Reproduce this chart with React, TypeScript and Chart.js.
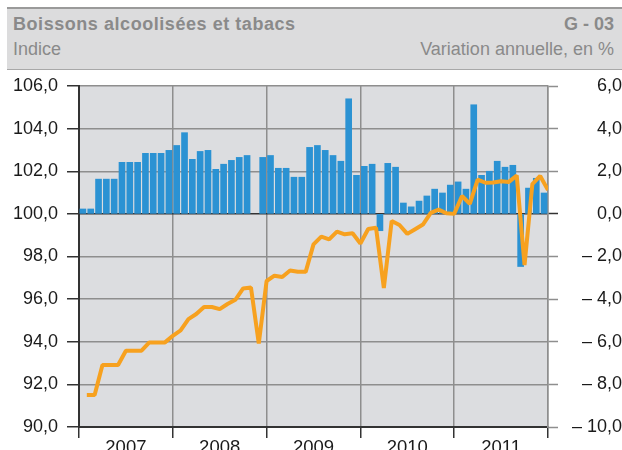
import React, { useEffect, useRef } from 'react';
import { Chart, registerables } from 'chart.js';

Chart.register(...registerables);

const years = ['2007', '2008', '2009', '2010', '2011'];
const monthsPerYear = 12;

// Indice (left axis), one value per month, Jan 2007 .. Dec 2011
const indexValues = [
  91.5, 91.5, 92.91, 92.91, 92.91, 93.58, 93.58, 93.58, 93.97, 93.97, 93.97, 94.28,
  94.53, 95.06, 95.3, 95.63, 95.63, 95.53, 95.77, 95.97, 96.5, 96.55, 93.92, 96.85,
  97.1, 97.04, 97.34, 97.28, 97.28, 98.57, 98.93, 98.8, 99.17, 99.04, 99.09, 98.61,
  99.29, 99.35, 96.52, 99.67, 99.48, 99.06, 99.28, 99.5, 100.05, 100.2, 100.03, 100.0,
  100.84, 100.47, 101.61, 101.46, 101.47, 101.53, 101.5, 101.8, 97.6, 101.4, 101.78, 101.12,
];

// Variation annuelle, en % (right axis)
const annualChange: (number | null)[] = [
  0.23, 0.23, 1.63, 1.63, 1.63, 2.42, 2.42, 2.42, 2.84, 2.84, 2.84, 2.98,
  3.21, 3.81, 2.56, 2.93, 2.98, 2.09, 2.33, 2.51, 2.65, 2.74, null, 2.65,
  2.74, 2.14, 2.14, 1.72, 1.72, 3.12, 3.21, 2.98, 2.74, 2.47, 5.4, 1.81,
  2.23, 2.33, -0.79, 2.37, 2.19, 0.51, 0.33, 0.6, 0.84, 1.16, 0.98, 1.35,
  1.5, 1.16, 5.12, 1.81, 2.0, 2.47, 2.19, 2.28, -2.47, 1.21, 1.67, 0.98,
];

const leftMin = 90;
const leftMax = 106;
const rightMin = -10;
const rightMax = 6;
const tickStep = 2;

const fmt = (v: number) =>
  (v < 0 ? '\u2013 ' : '') + Math.abs(v).toFixed(1).replace('.', ',');

const GRID = '#8e8e8e';
const DARK = '#333333';
const FONT = 'Liberation Sans, Arial, sans-serif';

const bgPlugin = {
  id: 'plotBg',
  beforeDraw(chart: any) {
    const { ctx, chartArea } = chart;
    ctx.save();
    ctx.fillStyle = '#dcdde0';
    ctx.fillRect(chartArea.left, chartArea.top, chartArea.right - chartArea.left, chartArea.bottom - chartArea.top);
    ctx.restore();
  },
};

export default function App() {
  const ref = useRef<HTMLCanvasElement | null>(null);

  useEffect(() => {
    if (!ref.current) return;
    const total = years.length * monthsPerYear;
    const lineData = indexValues.map((v, i) => ({ x: i + 1, y: v }));
    const barData = annualChange.map((v, i) => ({ x: i + 0.5, y: v }));

    const chart = new Chart(ref.current, {
      type: 'bar',
      data: {
        datasets: [
          {
            type: 'line',
            label: 'Indice',
            data: lineData as any,
            yAxisID: 'y',
            xAxisID: 'x',
            borderColor: '#f7a11f',
            backgroundColor: '#f7a11f',
            borderWidth: 4,
            pointRadius: 0,
            tension: 0,
            borderJoinStyle: 'bevel',
            order: 0,
          } as any,
          {
            type: 'bar',
            label: 'Variation annuelle',
            data: barData as any,
            yAxisID: 'y2',
            xAxisID: 'x',
            backgroundColor: '#2b92d3',
            borderWidth: 0,
            barThickness: 6,
            order: 1,
          } as any,
        ],
      },
      options: {
        animation: false,
        responsive: false,
        maintainAspectRatio: false,
        layout: { padding: { top: 86, left: 0, right: 0, bottom: 0 } },
        plugins: { legend: { display: false }, tooltip: { enabled: false } },
        scales: {
          x: {
            type: 'linear',
            position: 'bottom',
            offset: false,
            min: 0,
            max: total,
            afterBuildTicks: (scale: any) => {
              const t = [];
              for (let v = 0; v <= total; v += monthsPerYear / 2) t.push({ value: v });
              scale.ticks = t;
            },
            afterFit: (scale: any) => {
              scale.height = 23;
            },
            grid: {
              offset: false,
              color: (c: any) => (c.tick && c.tick.value % monthsPerYear === 0 ? GRID : 'rgba(0,0,0,0)'),
              tickColor: (c: any) => (c.tick && c.tick.value % monthsPerYear === 0 ? DARK : 'rgba(0,0,0,0)'),
              lineWidth: 1.5,
              tickLength: 11,
              tickWidth: 1.5,
            },
            border: { color: DARK, width: 2 },
            ticks: {
              autoSkip: false,
              maxRotation: 0,
              padding: -1,
              color: '#1a1a1a',
              font: { family: FONT, size: 18.5 },
              callback: (v: any) => {
                const n = Number(v);
                if (n % monthsPerYear === monthsPerYear / 2) return years[(n - monthsPerYear / 2) / monthsPerYear];
                return '';
              },
            },
          },
          y: {
            type: 'linear',
            position: 'left',
            min: leftMin,
            max: leftMax,
            afterFit: (scale: any) => {
              scale.width = 79;
            },
            grid: {
              color: (c: any) => (c.tick && c.tick.value === 100 ? DARK : GRID),
              lineWidth: 1.5,
              tickColor: DARK,
              tickLength: 12,
              tickWidth: 1.5,
            },
            border: { color: DARK, width: 2 },
            ticks: {
              stepSize: tickStep,
              padding: 9,
              color: '#1a1a1a',
              font: { family: FONT, size: 18 },
              callback: (v: any) => fmt(Number(v)),
            },
          },
          y2: {
            type: 'linear',
            position: 'right',
            min: rightMin,
            max: rightMax,
            afterFit: (scale: any) => {
              scale.width = 74;
            },
            grid: {
              drawOnChartArea: false,
              tickColor: (c: any) => (c.tick && c.tick.value === 0 ? DARK : GRID),
              tickLength: 10,
              tickWidth: 1.5,
            },
            border: { color: GRID, width: 1.5 },
            ticks: {
              stepSize: tickStep,
              padding: 5,
              crossAlign: 'far',
              color: '#1a1a1a',
              font: { family: FONT, size: 18 },
              callback: (v: any) => fmt(Number(v)),
            },
          },
        },
      },
      plugins: [bgPlugin],
    });
    return () => chart.destroy();
  }, []);

  return (
    <div style={{ position: 'absolute', left: 0, top: 0, width: 622, height: 450, overflow: 'hidden', background: '#fff' }}>
      <div
        style={{
          position: 'absolute',
          left: 7,
          top: 7,
          width: 615,
          height: 60,
          background: '#dcdcdd',
          borderTop: '2px solid #9a9a9a',
          borderBottom: '1px solid #a8a8a8',
          fontFamily: FONT,
          color: '#8a8a8a',
        }}
      >
        <div style={{ position: 'absolute', left: 6, top: 6, fontSize: 18, lineHeight: '18px', fontWeight: 'bold', letterSpacing: 0.55 }}>
          Boissons alcoolisées et tabacs
        </div>
        <div style={{ position: 'absolute', right: 8, top: 6, fontSize: 18, lineHeight: '18px', fontWeight: 'bold' }}>
          G - 03
        </div>
        <div style={{ position: 'absolute', left: 6, top: 31, fontSize: 18, lineHeight: '18px' }}>Indice</div>
        <div style={{ position: 'absolute', right: 8, top: 31, fontSize: 18, lineHeight: '18px' }}>
          Variation annuelle, en %
        </div>
      </div>
      <canvas ref={ref} width={622} height={450} style={{ position: 'absolute', left: 0, top: 0, width: 622, height: 450 }} />
    </div>
  );
}
